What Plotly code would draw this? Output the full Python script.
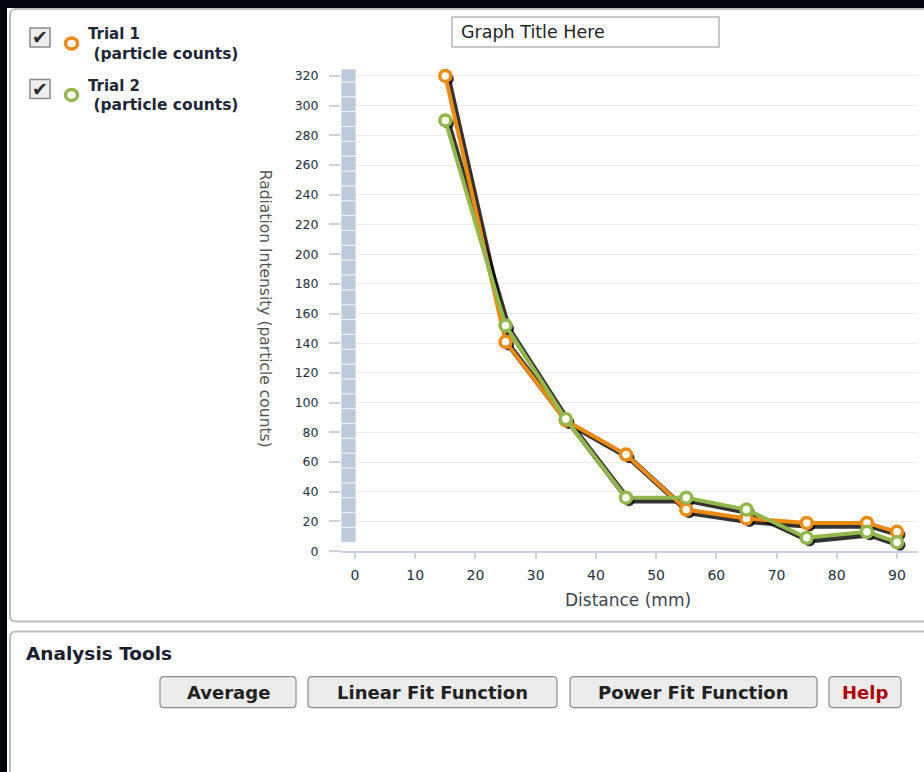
import plotly.graph_objects as go

# ---------------- data ----------------
distance_mm = [15, 25, 35, 45, 55, 65, 75, 85, 90]
trial1_counts = [320, 141, 88, 65, 28, 22, 19, 19, 13]
trial2_counts = [290, 152, 89, 36, 36, 28, 9, 13, 6]
series_names = ["Trial 1", "Trial 2"]
series_colors = ["#ee8a10", "#92b84b"]
x_ticks = [0, 10, 20, 30, 40, 50, 60, 70, 80, 90]
y_ticks = [0, 20, 40, 60, 80, 100, 120, 140, 160, 180, 200, 220, 240, 260, 280, 300, 320]
button_labels = ["Average", "Linear Fit Function", "Power Fit Function", "Help"]

W, H = 924, 772
HS = 764.5  # effective vertical scale of the rendered page
FONT = "DejaVu Sans"


def px(x):
    return x / W


def py(y):
    return 1 - y / HS


def rrect(x0, y0, x1, y1, r):
    pts = [
        ("M", x0 + r, y0), ("L", x1 - r, y0), ("Q", x1, y0, x1, y0 + r),
        ("L", x1, y1 - r), ("Q", x1, y1, x1 - r, y1), ("L", x0 + r, y1),
        ("Q", x0, y1, x0, y1 - r), ("L", x0, y0 + r), ("Q", x0, y0, x0 + r, y0),
    ]
    s = ""
    for p in pts:
        cmd = p[0]
        coords = p[1:]
        cs = []
        for i in range(0, len(coords), 2):
            cs.append(f"{px(coords[i]):.5f},{py(coords[i+1]):.5f}")
        s += cmd + " " + " ".join(cs) + " "
    return s + "Z"


# plot area in pixels
PL, PR, PT, PB = 341, 918, 68, 550.5
X0PX, X90PX = 355, 897
xppu = (X90PX - X0PX) / 90.0
Y0PX, Y320PX = 550.5, 75
yppu = (Y0PX - Y320PX) / 320.0
xr = [(PL - X0PX) / xppu, (PR - X0PX) / xppu]
yr = [0, (Y0PX - PT) / yppu]
sdx, sdy = 3 / xppu, 3 / yppu

fig = go.Figure()

series = [trial1_counts, trial2_counts]
# shadows
for vals in series:
    fig.add_trace(go.Scatter(
        x=distance_mm, y=vals, mode="lines+markers", xaxis="x2", yaxis="y2",
        line=dict(color="rgba(0,0,0,0.8)", width=5.5),
        marker=dict(size=11, color="rgba(0,0,0,0.8)"),
        hoverinfo="skip", showlegend=False))
# main lines
for name, vals, col in zip(series_names, series, series_colors):
    fig.add_trace(go.Scatter(
        x=distance_mm, y=vals, mode="lines+markers", name=name,
        xaxis="x3", yaxis="y3",
        line=dict(color=col, width=4),
        marker=dict(size=11, color="white", line=dict(color=col, width=3.5)),
        showlegend=False))

shapes = []
# page background white area
shapes.append(dict(type="rect", xref="paper", yref="paper", x0=px(7), x1=px(W + 5),
                   y0=py(H + 20), y1=py(7), fillcolor="white", line=dict(width=0), layer="below"))
# panels
shapes.append(dict(type="path", xref="paper", yref="paper", path=rrect(10, 8, W + 20, 621, 6),
                   line=dict(color="#bdbdbd", width=2), fillcolor="rgba(0,0,0,0)", layer="below"))
shapes.append(dict(type="path", xref="paper", yref="paper", path=rrect(10, 631, W + 20, H + 20, 6),
                   line=dict(color="#bdbdbd", width=2), fillcolor="rgba(0,0,0,0)", layer="below"))
# left strip on y axis
seg_bottoms = [6 + 10 * i for i in range(32)]
for b in seg_bottoms:
    shapes.append(dict(type="rect", xref="x", yref="y", x0=xr[0], x1=(356 - X0PX) / xppu,
                       y0=b, y1=min(b + 10, yr[1]), fillcolor="#bccadb",
                       line=dict(color="#eef2f6", width=1), layer="between"))
# x axis line extension to the left
shapes.append(dict(type="line", xref="paper", yref="paper", x0=px(330), x1=px(PL),
                   y0=py(PB), y1=py(PB), line=dict(color="#c8d3df", width=2)))
# title box
shapes.append(dict(type="rect", xref="paper", yref="paper", x0=px(452), x1=px(719),
                   y0=py(46), y1=py(16), fillcolor="white", line=dict(color="#b8b8b8", width=1.5)))
# checkboxes + legend circles
for cy, col in zip([36.5, 88], series_colors):
    shapes.append(dict(type="rect", xref="paper", yref="paper", x0=px(30), x1=px(50),
                       y0=py(cy + 9.5), y1=py(cy - 9.5), fillcolor="#efefef",
                       line=dict(color="#8a8a8a", width=1.5)))
    lcy = cy + 6
    shapes.append(dict(type="circle", xref="paper", yref="paper", x0=px(65.5), x1=px(77.5),
                       y0=py(lcy + 5.5), y1=py(lcy - 5.5), fillcolor="white",
                       line=dict(color=col, width=3.5)))
# buttons
btn_x = [(160, 296), (308, 557), (570, 817), (829, 901)]
for (bx0, bx1) in btn_x:
    shapes.append(dict(type="path", xref="paper", yref="paper", path=rrect(bx0, 676, bx1, 707, 4),
                       fillcolor="#ececec", line=dict(color="#8c8c8c", width=1.2)))

ann = []
ann.append(dict(text="Graph Title Here", x=px(459), y=py(31), xanchor="left", yanchor="middle",
                font=dict(family=FONT, size=17.5, color="#222222")))
for cy, name in zip([36.5, 88], series_names):
    ann.append(dict(text="✔", x=px(40), y=py(cy), xanchor="center", yanchor="middle",
                    font=dict(family=FONT, size=19, color="#2a2a2a")))
    ann.append(dict(text="<b>" + name + "</b>", x=px(86), y=py(cy - 3), xanchor="left", yanchor="middle",
                    font=dict(family=FONT, size=15, color="#1c2838")))
    ann.append(dict(text="<b> (particle counts)</b>", x=px(86), y=py(cy + 16.5), xanchor="left",
                    yanchor="middle", font=dict(family=FONT, size=15.5, color="#1c2838")))
ann.append(dict(text="Radiation Intensity (particle counts)", textangle=90, x=px(265), y=py(308),
                xanchor="center", yanchor="middle", font=dict(family=FONT, size=15.5, color="#555555")))
ann.append(dict(text="Distance (mm)", x=px(628), y=py(599), xanchor="center", yanchor="middle",
                font=dict(family=FONT, size=17, color="#3a4550")))
ann.append(dict(text="<b>Analysis Tools</b>", x=px(24), y=py(653), xanchor="left", yanchor="middle",
                font=dict(family=FONT, size=18.5, color="#1a2030")))
for (bx0, bx1), lab in zip(btn_x, button_labels):
    ann.append(dict(text="<b>" + lab + "</b>", x=px((bx0 + bx1) / 2), y=py(691.5), xanchor="center",
                    yanchor="middle",
                    font=dict(family=FONT, size=18, color="#b00000" if lab == "Help" else "#222222")))
for a in ann:
    a.update(xref="paper", yref="paper", showarrow=False)

dom_x = [px(PL), px(PR)]
dom_y = [py(PB), py(PT)]
fig.update_layout(
    width=W, height=H, autosize=False, margin=dict(l=0, r=0, t=0, b=0),
    paper_bgcolor="#04070d", plot_bgcolor="rgba(0,0,0,0)",
    showlegend=False, shapes=shapes, annotations=ann,
    xaxis=dict(domain=dom_x, range=xr, tickvals=x_ticks, ticks="outside", ticklen=6,
               tickcolor="#c8d3df", tickwidth=1.5, showline=True, linecolor="#c8d3df", linewidth=2,
               showgrid=False, zeroline=False, ticklabelstandoff=4,
               tickfont=dict(family=FONT, size=14, color="#24313f")),
    yaxis=dict(domain=dom_y, range=yr, tickvals=y_ticks, ticks="outside", ticklen=11,
               tickcolor="#c8d3df", tickwidth=1.5, showline=False, showgrid=True,
               gridcolor="#ececec", gridwidth=1, zeroline=False, ticklabelstandoff=8,
               tickfont=dict(family=FONT, size=12.5, color="#24313f")),
    xaxis2=dict(overlaying="x", range=[xr[0] - sdx, xr[1] - sdx], visible=False),
    yaxis2=dict(overlaying="y", range=[yr[0] + sdy, yr[1] + sdy], visible=False),
    xaxis3=dict(overlaying="x", range=xr, visible=False),
    yaxis3=dict(overlaying="y", range=yr, visible=False),
)

fig.write_html("out.html",
               config={"displayModeBar": False, "responsive": False},
               post_script="document.body.style.margin='0';document.body.style.overflow='hidden';")
